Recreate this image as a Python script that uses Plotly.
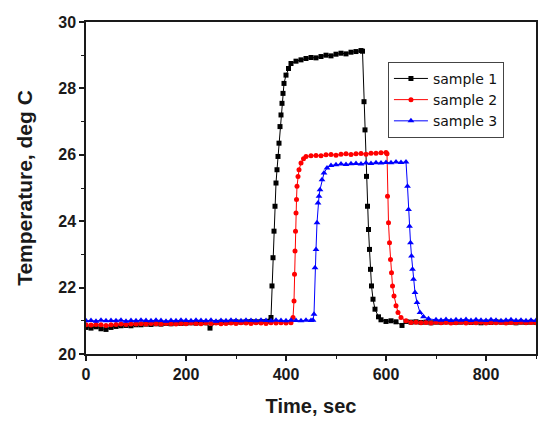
import plotly.graph_objects as go

# ---------------- data ----------------
t1 = [0,10,20,30,40,50,60,70,80,90,100,110,120,130,140,150,160,170,180,190,200,210,220,230,240,248,260,270,280,290,300,310,320,330,340,350,360,368,
      370,372,374,376,378,380,382,384,386,388,390,392,394,396,400,405,410,
      420,430,440,450,460,470,480,490,500,510,520,530,540,550,553,
      556,558,561,563,565,567,569,571,574,578,585,590,
      600,610,620,632,640,650,660,670,680,690,700,710,720,730,740,750,760,770,780,790,800,810,820,830,840,850,860,870,880,890,900]
y1 = [20.80,20.78,20.82,20.76,20.74,20.80,20.83,20.85,20.86,20.85,20.88,20.88,20.90,20.89,20.91,20.90,20.92,20.91,20.93,20.92,
      20.93,20.94,20.93,20.95,20.94,20.78,20.95,20.96,20.95,20.96,20.97,20.96,20.97,20.98,20.97,20.98,20.98,20.99,
      21.10,22.05,22.90,23.70,24.45,25.15,25.55,25.95,26.35,26.85,27.20,27.55,27.85,28.15,28.40,28.60,28.75,
      28.82,28.86,28.90,28.93,28.92,28.96,29.00,28.98,29.03,29.06,29.04,29.09,29.11,29.14,29.12,
      27.60,26.75,25.35,24.45,23.75,23.15,22.55,22.05,21.65,21.35,21.12,21.03,
      20.98,21.00,20.97,20.86,20.98,
      20.96,20.97,20.95,20.96,20.94,20.96,20.95,20.97,20.96,20.95,
      20.96,20.97,20.95,20.96,20.94,20.96,20.95,20.97,20.96,20.95,
      20.96,20.94,20.96,20.95,20.96,20.95]

t2 = [0,10,20,30,40,50,60,70,80,90,100,110,120,130,140,150,160,170,180,190,200,210,220,230,240,250,260,270,280,290,300,310,320,330,340,350,360,370,380,390,400,410,
      414,416,417,418,419,420,421,422,424,426,430,435,440,
      450,460,470,480,490,500,510,520,530,540,550,560,570,580,590,600,602,
      603,605,607,609,611,613,616,620,624,630,
      640,650,660,670,680,690,700,710,720,730,740,750,760,770,780,790,800,810,820,830,840,850,860,870,880,890,900]
y2 = [20.88,20.87,20.89,20.88,20.86,20.88,20.89,20.90,20.89,20.90,
      20.90,20.91,20.90,20.92,20.91,20.90,20.92,20.91,20.90,20.92,
      20.91,20.93,20.92,20.91,20.93,20.92,20.93,20.91,20.92,20.93,
      20.92,20.94,20.93,20.92,20.94,20.93,20.92,20.94,20.93,20.94,
      20.93,20.94,
      21.10,21.60,22.40,23.10,23.70,24.25,24.65,25.05,25.35,25.55,25.75,25.88,25.95,
      25.97,25.98,25.97,26.00,26.01,25.99,26.02,26.03,26.01,26.03,26.04,26.02,26.05,26.05,26.06,26.07,26.03,
      24.75,23.95,23.35,22.85,22.45,22.05,21.75,21.45,21.25,21.10,
      21.00,20.95,20.96,20.94,20.95,20.93,20.96,20.94,20.95,20.93,
      20.94,20.96,20.93,20.95,20.94,20.96,20.93,20.95,20.94,20.95,
      20.93,20.95,20.94,20.96,20.94,20.95,20.94]

t3 = [0,10,20,30,40,50,60,70,80,90,100,110,120,130,140,150,160,170,180,190,200,210,220,230,240,250,260,270,280,290,300,310,320,330,340,350,360,370,380,390,400,410,420,430,440,450,454,
      456,458,460,462,464,466,468,472,476,482,490,
      500,510,520,530,540,550,560,570,580,590,600,610,620,630,640,
      643,645,647,649,651,653,655,658,662,668,675,685,
      700,710,720,730,740,750,760,770,780,790,800,810,820,830,840,850,860,870,880,890,900]
y3 = [21.00,21.01,20.99,21.02,21.00,21.01,21.00,21.02,20.99,21.01,
      21.00,21.02,21.01,21.00,21.02,21.01,20.99,21.01,21.00,21.02,
      21.01,21.00,21.02,21.01,21.00,21.02,20.99,21.01,21.00,21.02,
      21.01,21.00,21.02,21.01,21.00,21.02,21.01,21.00,21.02,21.01,
      21.00,21.02,21.01,21.00,21.02,21.01,21.02,
      21.20,22.60,23.15,23.95,24.55,24.75,24.95,25.25,25.45,25.60,25.68,
      25.70,25.72,25.71,25.73,25.74,25.72,25.75,25.74,25.76,25.75,25.77,25.76,25.78,25.77,25.78,
      25.05,24.35,23.85,23.35,22.95,22.55,22.25,21.85,21.55,21.25,21.12,21.06,
      21.03,21.02,21.04,21.01,21.03,21.02,21.04,21.01,21.03,21.02,
      21.01,21.03,21.02,21.00,21.02,21.03,21.01,21.02,21.00,21.02,21.01]

names = ["sample 1", "sample 2", "sample 3"]
colors = ["#000000", "#ff0000", "#0000ff"]
symbols = ["square", "circle", "triangle-up"]
marker_sizes = [5, 5, 6]
x_ticks = [0, 200, 400, 600, 800]
y_ticks = [20, 22, 24, 26, 28, 30]

FONT = "Arial, Liberation Sans, sans-serif"
INK = "#1a1a1a"

fig = go.Figure()
for t, y, n, c, s, ms in zip([t1, t2, t3], [y1, y2, y3], names, colors, symbols, marker_sizes):
    fig.add_trace(go.Scatter(
        x=t, y=y, name=n, mode="lines+markers",
        line=dict(color=c, width=1),
        marker=dict(symbol=s, size=ms, color=c, line=dict(width=0)),
    ))

axis_common = dict(
    showline=True, linecolor=INK, linewidth=1.5, mirror=True,
    ticks="outside", ticklen=5, tickwidth=1.5, tickcolor=INK,
    showgrid=False, zeroline=False, automargin=False,
    tickfont=dict(family=FONT, size=16, color=INK, weight="bold"),
)

fig.update_xaxes(
    range=[0, 900], tickvals=x_ticks,
    title=dict(text="Time, sec", font=dict(family=FONT, size=20, color=INK, weight="bold"), standoff=17),
    minor=dict(dtick=100, tick0=0, ticks="outside", ticklen=3, tickwidth=1.2, tickcolor=INK),
    **axis_common,
)
fig.update_yaxes(
    range=[20, 30], tickvals=y_ticks,
    title=dict(text="Temperature, deg C", font=dict(family=FONT, size=21, color=INK, weight="bold"), standoff=20),
    minor=dict(dtick=1, tick0=20, ticks="outside", ticklen=3, tickwidth=1.2, tickcolor=INK),
    **axis_common,
)

fig.update_layout(
    template="none",
    width=550, height=422,
    margin=dict(l=78, r=22, t=14, b=76),
    paper_bgcolor="white", plot_bgcolor="white",
    showlegend=True,
    legend=dict(
        x=0.671, y=0.880, xanchor="left", yanchor="top",
        bordercolor="#444444", borderwidth=1, bgcolor="white",
        font=dict(family="DejaVu Sans, sans-serif", size=14, color="#111111"),
        tracegroupgap=0, itemwidth=34,
    ),
)

fig.write_html("out.html")
